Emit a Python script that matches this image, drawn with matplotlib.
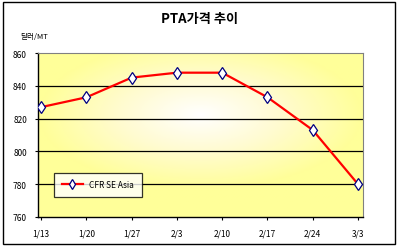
import numpy as np
import matplotlib.pyplot as plt
from matplotlib.colors import LinearSegmentedColormap
from matplotlib.patches import Rectangle

plt.rcParams['font.family'] = ['Noto Sans CJK KR', 'DejaVu Sans']

# 데이터
dates = ['1/13', '1/20', '1/27', '2/3', '2/10', '2/17', '2/24', '3/3']
cfr_se_asia = [827, 833, 845, 848, 848, 833, 813, 780]
y_ticks = [760, 780, 800, 820, 840, 860]

fig = plt.figure(figsize=(4.02, 2.53), dpi=100)
ax = fig.add_axes([38 / 402, 35 / 253, 325 / 402, 164 / 253])

# 배경 그라데이션 (가운데 흰색 -> 가장자리 노랑)
gx, gy = np.meshgrid(np.linspace(-1, 1, 200), np.linspace(-1, 1, 120))
r = np.clip(np.sqrt(gx ** 2 + ((gy + 0.25) * 1.1) ** 2), 0, 1)
cmap = LinearSegmentedColormap.from_list('yw', ['#ffffff', '#fffbd0', '#ffff99'])
ax.imshow(r, cmap=cmap, extent=[0, 1, 0, 1], transform=ax.transAxes,
          aspect='auto', zorder=0, vmin=0, vmax=1)

x = np.arange(len(dates))
ax.plot(x, cfr_se_asia, color='red', lw=1.6, marker='d', ms=6,
        mfc='white', mec='#000080', mew=0.9, label='CFR SE Asia', zorder=3)

for v in y_ticks[1:-1]:
    ax.axhline(v, color='black', lw=0.9, zorder=1)

ax.set_xlim(-0.07, 7.11)
ax.set_ylim(760, 860)
ax.set_xticks(x)
ax.set_xticklabels(dates)
ax.set_yticks(y_ticks)
ax.tick_params(labelsize=6, length=2, width=0.8, pad=6, colors='black')

ax.spines['top'].set_color('#808080')
ax.spines['right'].set_color('#808080')
for s in ['left', 'bottom']:
    ax.spines[s].set_linewidth(1)

leg = ax.legend(loc='lower left', bbox_to_anchor=(0.037, 0.098), fontsize=6,
                frameon=True, fancybox=False, borderpad=0.9, handlelength=2.5,
                markerscale=0.8)
leg.get_frame().set_edgecolor('black')
leg.get_frame().set_linewidth(0.9)

fig.text(200 / 402, 1 - 19 / 253, 'PTA가격 추이', ha='center', va='center',
         fontsize=9.5, fontweight='bold')
fig.text(20 / 402, 1 - 37 / 253, '달러/MT', ha='left', va='center', fontsize=5.5)

fig.patches.append(Rectangle((3 / 402, 8 / 253), 392 / 402, 242 / 253,
                             transform=fig.transFigure, fill=False,
                             edgecolor='black', lw=1))

fig.savefig('out.png', dpi=100)
